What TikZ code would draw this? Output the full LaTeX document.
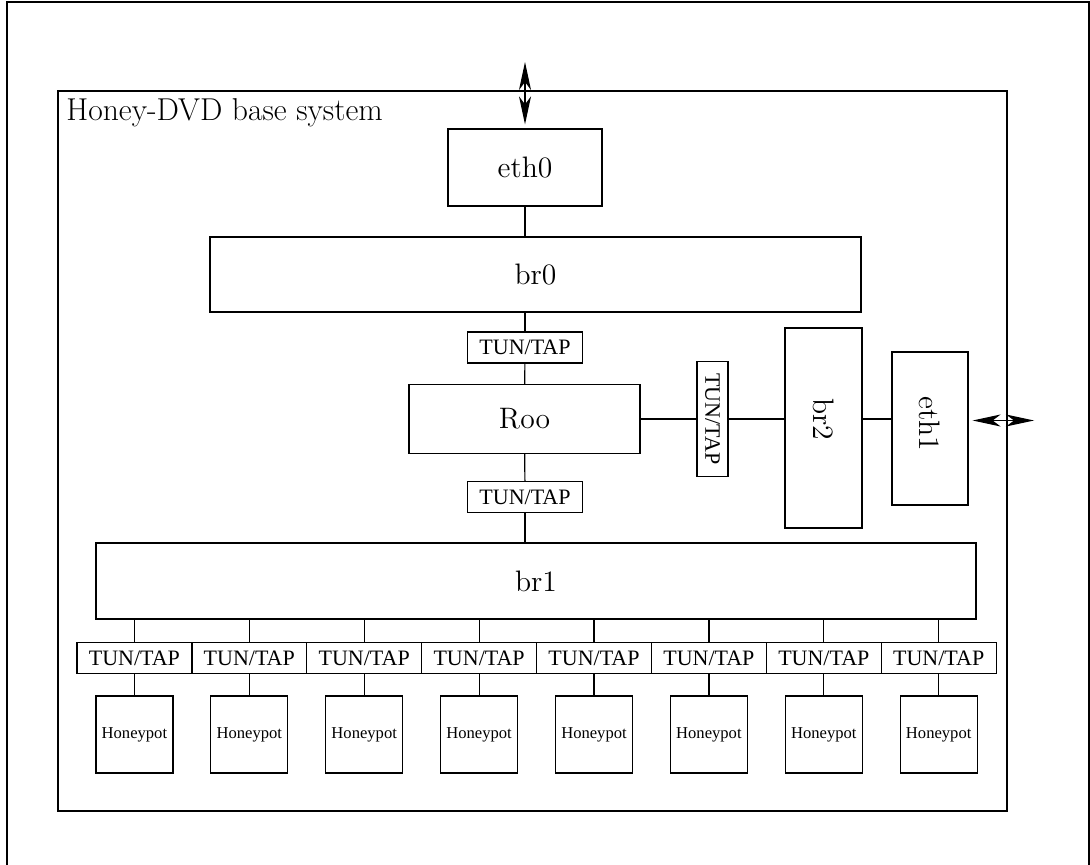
\documentclass[tikz,border=0pt]{standalone}
\usepackage{fontspec}
\newfontfamily\timesfont{Liberation Serif}
\usepackage{graphicx}
\usetikzlibrary{arrows.meta}

\begin{document}
\begin{tikzpicture}[x=0.5pt, y=-0.5pt,
    box/.style={draw, line width=0.6pt, inner sep=0pt, font=\fontsize{14.8}{17}\selectfont},
    tap/.style={draw, line width=0.6pt, inner sep=0pt, minimum width=57.5pt, minimum height=15.5pt, font=\timesfont\fontsize{11}{12}\selectfont},
    pot/.style={draw, line width=0.6pt, inner sep=0pt, minimum size=38.5pt, font=\timesfont\fontsize{8.3}{10}\selectfont},
    link/.style={line width=0.6pt},
    ext/.style={{Stealth[length=14pt,width=6pt,inset=4pt]}-{Stealth[length=14pt,width=6pt,inset=4pt]}, line width=0.6pt}
]
\useasboundingbox (0,0) rectangle (1090,865);
% Frame
\draw[line width=1pt] (7,870) |- (1089,2) -- (1089,870);
\draw[line width=0.7pt] (58,91) rectangle (1007,811);
\node[anchor=base west, inner sep=0pt, font=\fontsize{15.8}{18}\selectfont] (title) at (66,121) {Honey-DVD base system};

% Upstream side
\node[box, minimum width=77pt, minimum height=38.5pt] (eth0) at (525,167.5) {eth0};
\node[box, minimum width=325.5pt, minimum height=37.5pt] (br0) at (535.5,274.5) {br0};
\node[tap] (tapu) at (525,347.5) {TUN/TAP};
\node[box, minimum width=115.5pt, minimum height=34.5pt] (roo) at (524.5,419) {Roo};
\node[tap] (tapl) at (525,497) {TUN/TAP};

% Side bridge
\node[draw, line width=0.6pt, inner sep=0pt, minimum width=15.5pt, minimum height=57.5pt, font=\timesfont\fontsize{11}{12}\selectfont] (tapv) at (712.5,419) {\rotatebox{-90}{TUN/TAP}};
\node[box, minimum width=38.5pt, minimum height=100pt, label={[shift={(0,-9)}, font=\fontsize{14.8}{17}\selectfont]center:\rotatebox{-90}{br2}}] (br2) at (823.5,428) {};
\node[box, minimum width=38pt, minimum height=76.5pt, label={[shift={(0,-4.5)}, font=\fontsize{14.8}{17}\selectfont]center:\rotatebox{-90}{eth1}}] (eth1) at (930,428.5) {};
\coordinate (up) at (525,62);
\coordinate (out) at (1034,420.5);

\node[box, minimum width=440pt, minimum height=38pt] (br1) at (536,581) {br1};

\draw[ext, shorten >=2pt] (up) -- (eth0);
\draw[link] (eth0) -- (eth0 |- br0.north);
\draw[link] (tapu) -- (tapu |- br0.south);
\draw[link] (tapu) -- (roo);
\draw[link] (roo) -- (tapl);
\draw[link] (tapl.south) -- (tapl.south |- br1.north);
\draw[link] (roo) -- (tapv);
\draw[link] (tapv) -- (tapv -| br2.west);
\draw[link] (tapv -| br2.east) -- (tapv -| eth1.west);
\draw[ext, shorten <=2pt] (eth1.east |- out) -- (out);

% Honeypots
\foreach \i in {1,...,8} {
  \pgfmathsetmacro\xx{134.4+(\i-1)*114.9}
  \node[tap] (t\i) at (\xx,658) {TUN/TAP};
  \node[pot] (h\i) at (\xx,734.5) {Honeypot};
  \draw[link] (t\i) -- (t\i |- br1.south);
  \draw[link] (t\i) -- (h\i);
}
\end{tikzpicture}
\end{document}
